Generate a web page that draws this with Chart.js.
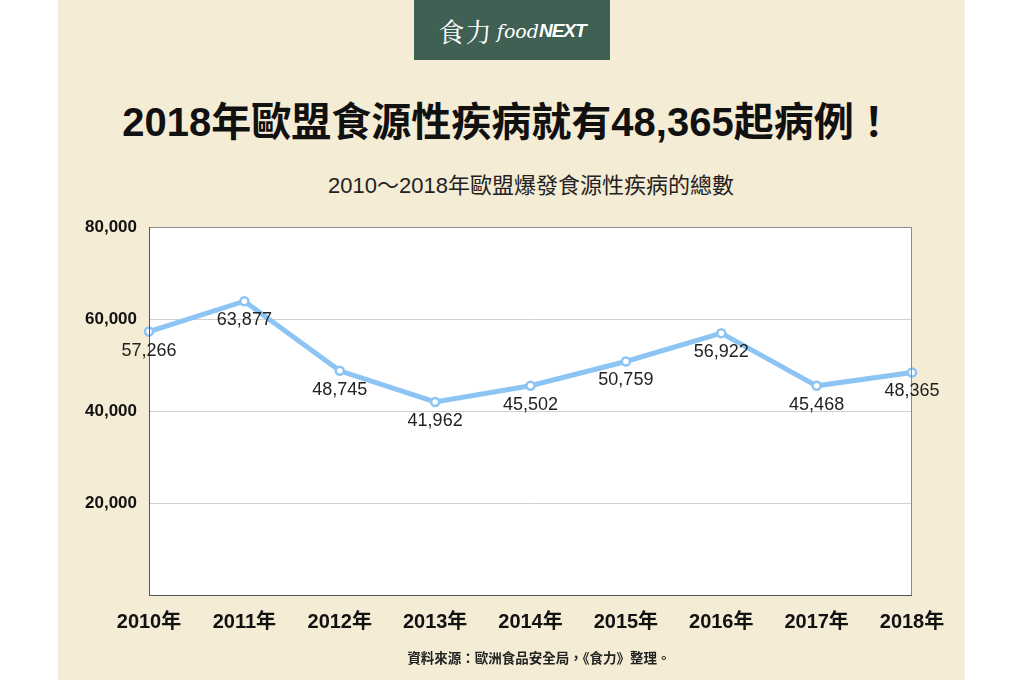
<!DOCTYPE html>
<html><head><meta charset="utf-8">
<script src="https://cdn.jsdelivr.net/npm/chart.js@4/dist/chart.umd.min.js"></script>
<style>
html,body{margin:0;padding:0;width:1024px;height:680px;background:#fff;overflow:hidden;font-family:"Liberation Sans","Noto Sans CJK TC",sans-serif;}
#panel{position:absolute;left:58px;top:0;width:907px;height:680px;background:#f5ecd6;}
#logo{position:absolute;left:414px;top:0;width:196px;height:60px;background:#3f6052;color:#fff;text-align:center;line-height:60px;}
#logo .zh{font-family:"Noto Serif CJK TC","Noto Sans CJK TC",serif;font-size:26px;vertical-align:middle;letter-spacing:1px;}
#logo .f{font-family:"DejaVu Serif",serif;font-style:italic;font-size:19px;vertical-align:middle;}
#logo .n{font-family:"Liberation Sans",sans-serif;font-style:italic;font-weight:bold;font-size:19px;vertical-align:middle;letter-spacing:-1px;}
#title{position:absolute;left:0;width:1016px;top:96px;text-align:center;font-weight:bold;font-size:40px;line-height:52px;color:#111;}
#sub{position:absolute;left:0;width:1062px;top:172px;text-align:center;font-size:22px;line-height:28px;color:#222;}
#foot{position:absolute;left:0;width:1078px;top:650px;text-align:center;font-size:13.5px;line-height:18px;font-weight:bold;color:#222;}
#wrap{position:absolute;left:58px;top:200px;width:907px;height:470px;}
</style></head>
<body>
<div id="panel"></div>
<div id="logo"><span class="zh">食力</span> <span class="f">food</span><span class="n">NEXT</span></div>
<div id="title">2018年歐盟食源性疾病就有48,365起病例！</div>
<div id="sub">2010～2018年歐盟爆發食源性疾病的總數</div>
<div id="wrap"><canvas id="c" width="907" height="470"></canvas></div>
<div id="foot">資料來源：歐洲食品安全局，《食力》整理。</div>
<script>
const categories = ["2010年","2011年","2012年","2013年","2014年","2015年","2016年","2017年","2018年"];
const outbreaks = [57266,63877,48745,41962,45502,50759,56922,45468,48365];
const yTicks = [0,20000,40000,60000,80000];

const bgPlugin = {
  id:'bg',
  beforeDraw(chart){
    const {ctx, chartArea:a} = chart;
    ctx.save(); ctx.fillStyle='#fff'; ctx.fillRect(a.left,a.top,a.right-a.left,a.bottom-a.top); ctx.restore();
  },
  afterDatasetsDraw(chart){
    const {ctx, chartArea:a} = chart;
    ctx.save(); ctx.strokeStyle='#8a8a8a'; ctx.lineWidth=1;
    ctx.strokeRect(a.left+0.5,a.top+0.5,a.right-a.left-1,a.bottom-a.top);
    ctx.strokeStyle='#555';
    ctx.beginPath(); ctx.moveTo(a.left+0.5,a.top); ctx.lineTo(a.left+0.5,a.bottom+0.5); ctx.lineTo(a.right,a.bottom+0.5); ctx.stroke();
    ctx.restore();
  },
  afterDraw(chart){
    const {ctx} = chart;
    const meta = chart.getDatasetMeta(0);
    ctx.save();
    ctx.font = '18px "Liberation Sans","Noto Sans CJK TC",sans-serif';
    ctx.fillStyle='#222'; ctx.textAlign='center'; ctx.textBaseline='middle';
    meta.data.forEach((p,i)=>{
      ctx.fillText(outbreaks[i].toLocaleString('en-US'), p.x, p.y+19);
    });
    ctx.restore();
  }
};

new Chart(document.getElementById('c'), {
  type:'line',
  data:{labels:categories, datasets:[{
    data:outbreaks, borderColor:'#8cc4f4', borderWidth:5, tension:0,
    pointRadius:4, pointBackgroundColor:'#fff', pointBorderColor:'#8cc4f4', pointBorderWidth:2.5
  }]},
  options:{
    responsive:false, animation:false,
    layout:{padding:{left:0,right:53,top:27,bottom:0}},
    plugins:{legend:{display:false}, tooltip:{enabled:false}},
    scales:{
      x:{offset:false, grid:{display:false, drawTicks:false}, border:{display:false},
        ticks:{color:'#111', font:{family:'"Liberation Sans","Noto Sans CJK TC",sans-serif', size:20, weight:'bold'}, padding:15, maxRotation:0, autoSkip:false},
        afterFit(s){s.height=75;}},
      y:{min:0,max:80000, grid:{color:'#d0d0d0', drawTicks:false}, border:{display:false},
        afterBuildTicks(s){s.ticks = yTicks.map(v=>({value:v}));},
        ticks:{color:'#111', padding:12, font:{family:'"Liberation Sans",sans-serif', size:17, weight:'bold'},
          callback:(v)=> v===0 ? '' : v.toLocaleString('en-US')},
        afterFit(s){s.width=91;}}
    }
  },
  plugins:[bgPlugin]
});
</script>
</body></html>
